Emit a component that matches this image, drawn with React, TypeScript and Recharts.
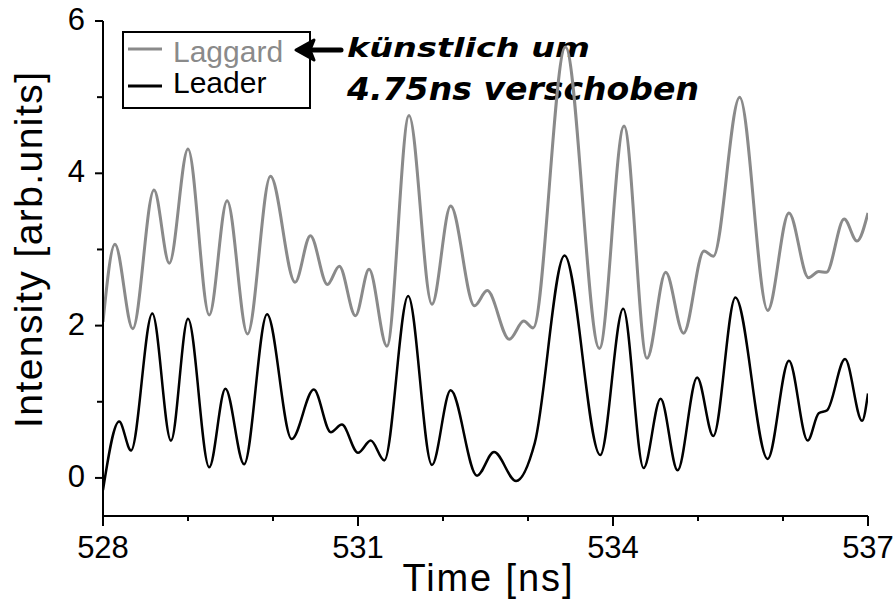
import React from 'react';
import { LineChart, Line, XAxis, YAxis, Legend } from 'recharts';

// values (time in ns, intensity in arb. units)
const leaderTime = [
  528.0, 528.19, 528.33, 528.58, 528.8, 529.0, 529.25, 529.44, 529.66, 529.93,
  530.22, 530.48, 530.68, 530.81, 531.0, 531.15, 531.31, 531.59, 531.87, 532.09,
  532.4, 532.6, 532.86, 533.08, 533.43, 533.85, 534.12, 534.36, 534.56, 534.76,
  534.99, 535.18, 535.44, 535.82, 536.07, 536.29, 536.42, 536.52, 536.73, 536.93, 537.0,
];
const leaderIntensity = [
  -0.16, 0.74, 0.36, 2.16, 0.49, 2.09, 0.14, 1.17, 0.18, 2.15,
  0.51, 1.16, 0.6, 0.7, 0.33, 0.49, 0.23, 2.39, 0.17, 1.15,
  0.03, 0.34, -0.04, 0.46, 2.92, 0.3, 2.22, 0.13, 1.04, 0.1,
  1.32, 0.55, 2.37, 0.25, 1.54, 0.49, 0.85, 0.89, 1.56, 0.75, 1.11,
];

const laggardTime = [
  528.0, 528.14, 528.35, 528.6, 528.78, 529.0, 529.25, 529.46, 529.7, 529.97,
  530.26, 530.44, 530.64, 530.78, 530.97, 531.13, 531.34, 531.6, 531.87, 532.09,
  532.37, 532.52, 532.78, 532.95, 533.06, 533.44, 533.84, 534.13, 534.4, 534.62,
  534.83, 535.07, 535.18, 535.49, 535.82, 536.07, 536.3, 536.42, 536.51, 536.72, 536.87, 537.0,
];
const laggardIntensity = [
  2.05, 3.07, 1.96, 3.78, 2.82, 4.32, 2.14, 3.64, 1.89, 3.96,
  2.57, 3.18, 2.54, 2.78, 2.13, 2.74, 1.73, 4.76, 2.28, 3.57,
  2.26, 2.46, 1.82, 2.06, 1.97, 5.66, 1.7, 4.62, 1.57, 2.7,
  1.9, 2.98, 2.91, 5.0, 2.2, 3.48, 2.63, 2.71, 2.7, 3.4, 3.11, 3.48,
];

const xTicks = [528, 529, 530, 531, 532, 533, 534, 535, 536, 537];
const xLabelTicks = [528, 531, 534, 537];
const yTicks = [0, 1, 2, 3, 4, 5, 6];
const yLabelTicks = [0, 2, 4, 6];

const leader = leaderTime.map((t, i) => ({ t, v: leaderIntensity[i] }));
const laggard = laggardTime.map((t, i) => ({ t, v: laggardIntensity[i] }));

const FONT = '"Liberation Sans", Arial, Helvetica, sans-serif';

const BottomTick = (props: any) => {
  const { x, y, payload } = props;
  const major = xLabelTicks.includes(payload.value);
  return (
    <g>
      <line x1={x} x2={x} y1={y} y2={y + (major ? 10 : 5)} stroke="#000" strokeWidth={2} />
      {major && (
        <text x={x} y={y + 42} textAnchor="middle" fontFamily={FONT} fontSize={31} fill="#000">
          {payload.value}
        </text>
      )}
    </g>
  );
};

const TopTick = (props: any) => {
  const { x, y, payload } = props;
  const major = xLabelTicks.includes(payload.value);
  return <line x1={x} x2={x} y1={y} y2={y - (major ? 11 : 6)} stroke="#000" strokeWidth={2} />;
};

const LeftTick = (props: any) => {
  const { x, y, payload } = props;
  const major = yLabelTicks.includes(payload.value);
  return (
    <g>
      <line x1={x - (major ? 8 : 6)} x2={x} y1={y} y2={y} stroke="#000" strokeWidth={2} />
      {major && (
        <text x={x - 18} y={y + 9} textAnchor="end" fontFamily={FONT} fontSize={31} fill="#000">
          {payload.value}
        </text>
      )}
    </g>
  );
};

const LegendBox = (props: any) => {
  const { payload } = props;
  return (
    <div style={{ width: 189, height: 78, border: '2px solid #000', boxSizing: 'border-box' }}>
      <svg width={185} height={74} style={{ display: 'block' }}>
        {(payload || []).map((p: any, i: number) => (
          <g key={p.value}>
            <line x1={4} x2={38} y1={16 + i * 37} y2={16 + i * 37} stroke={p.color} strokeWidth={3} />
            <text x={49} y={29 + i * 31} fontFamily={FONT} fontSize={30} fill={p.color}>
              {p.value}
            </text>
          </g>
        ))}
      </svg>
    </div>
  );
};

export default function App() {
  return (
    <div style={{ position: 'absolute', left: 0, top: 0, background: '#fff' }}>
      <LineChart width={895} height={602} margin={{ top: 21, right: 27, left: 0, bottom: 0 }}>
        <XAxis
          dataKey="t"
          type="number"
          domain={[528, 537]}
          ticks={xTicks}
          interval={0}
          allowDataOverflow
          height={86}
          tickSize={0}
          tickMargin={0}
          tickLine={false}
          tick={<BottomTick />}
          axisLine={{ stroke: '#000', strokeWidth: 2 }}
        />
        <XAxis
          xAxisId="top"
          orientation="top"
          dataKey="t"
          type="number"
          domain={[528, 537]}
          ticks={xTicks}
          interval={0}
          allowDataOverflow
          height={0}
          tickSize={0}
          tickMargin={0}
          tickLine={false}
          tick={<TopTick />}
          axisLine={{ stroke: '#000', strokeWidth: 2 }}
        />
        <YAxis
          type="number"
          domain={[-0.5, 6]}
          ticks={yTicks}
          interval={0}
          allowDataOverflow
          width={103}
          tickSize={0}
          tickMargin={0}
          tickLine={false}
          tick={<LeftTick />}
          axisLine={{ stroke: '#000', strokeWidth: 2 }}
        />
        <YAxis
          yAxisId="right"
          orientation="right"
          type="number"
          domain={[-0.5, 6]}
          width={0}
          tick={false}
          tickLine={false}
          axisLine={{ stroke: '#000', strokeWidth: 2 }}
        />
        <Legend
          layout="vertical"
          align="center"
          verticalAlign="middle"
          content={<LegendBox />}
          wrapperStyle={{ left: 122, top: 31, width: 189, height: 78 }}
        />
        <Line
          data={laggard}
          dataKey="v"
          name="Laggard"
          type="monotone"
          stroke="#8a8a8a"
          strokeWidth={3}
          dot={false}
          activeDot={false}
          isAnimationActive={false}
        />
        <Line
          data={leader}
          dataKey="v"
          name="Leader"
          type="monotone"
          stroke="#000"
          strokeWidth={2.5}
          dot={false}
          activeDot={false}
          isAnimationActive={false}
        />
        <text x={487.5} y={591} textAnchor="middle" fontFamily={FONT} fontSize={38} textLength={170} lengthAdjust="spacing" fill="#000">
          Time [ns]
        </text>
        <text
          x={42}
          y={250}
          textAnchor="middle"
          transform="rotate(-90, 42, 250)"
          fontFamily={FONT}
          fontSize={39}
          textLength={356}
          lengthAdjust="spacing"
          fill="#000"
        >
          Intensity [arb.units]
        </text>
        <g>
          <line x1={306} y1={50} x2={341} y2={50} stroke="#000" strokeWidth={5} strokeLinecap="round" />
          <path d="M296,50 L314,40 L310,50 L314,60 Z" fill="#000" stroke="#000" strokeWidth={3} strokeLinejoin="round" />
          <text x={347} y={57} fontFamily='"DejaVu Sans", sans-serif' fontWeight="bold" fontStyle="italic" fontSize={27} textLength={243} lengthAdjust="spacingAndGlyphs" fill="#000">
            künstlich um
          </text>
          <text x={347} y={100} fontFamily='"DejaVu Sans", sans-serif' fontWeight="bold" fontStyle="italic" fontSize={32} textLength={352} lengthAdjust="spacingAndGlyphs" fill="#000">
            4.75ns verschoben
          </text>
        </g>
      </LineChart>
    </div>
  );
}
